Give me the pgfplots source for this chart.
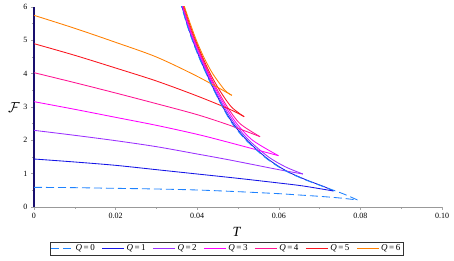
\documentclass[border=0pt]{standalone}
\usepackage{fontspec}
\setmainfont{Liberation Serif}
\usepackage{pgfplots}
\pgfplotsset{compat=1.18}
\definecolor{navyax}{RGB}{25,15,110}
\definecolor{cq0}{RGB}{30,130,255}
\definecolor{cq1}{RGB}{20,20,230}
\definecolor{cq2}{RGB}{155,48,255}
\definecolor{cq3}{RGB}{255,0,255}
\definecolor{cq4}{RGB}{255,20,147}
\definecolor{cq5}{RGB}{250,20,30}
\definecolor{cq6}{RGB}{255,127,0}
\begin{document}
\begin{tikzpicture}
\begin{axis}[
  at={(0,0)}, anchor=south west,
  scale only axis, width=408pt, height=200pt,
  xmin=0, xmax=0.1, ymin=0, ymax=6,
  axis x line*=bottom, axis y line*=left,
  x axis line style={-, draw=gray!80},
  y axis line style={-, draw=navyax, line width=1.3pt},
  xtick={0,0.02,0.04,0.06,0.08,0.1},
  xticklabels={0,0.02,0.04,0.06,0.08,0.10},
  ytick={0,1,2,3,4,5,6},
  minor x tick num=1, minor y tick num=1,
  tick align=outside,
  major tick length=3pt, minor tick length=2pt,
  tick style={gray!70, line width=0.4pt},
  tick label style={font=\fontsize{8}{9}\selectfont},
  /pgf/number format/assume math mode=true,
  xlabel={\textit{T}}, ylabel={$\mathcal{F}$},
  every axis x label/.style={at={(axis description cs:0.4975,-0.125)}, anchor=center, font=\fontsize{14}{14}\selectfont},
  every axis y label/.style={at={(axis description cs:-0.049,0.495)}, anchor=center, font=\fontsize{14}{14}\selectfont},
  legend columns=7,
  legend style={at={(axis description cs:0.472,-0.2075)}, anchor=center, draw=black!80, font=\fontsize{9}{10}\selectfont, inner sep=0.8pt, /tikz/every even column/.append style={column sep=5pt}},
  legend image code/.code={\draw[#1] (0pt,0pt) -- (22pt,0pt);},
  every axis plot/.append style={line width=0.85pt},
]
% Q = 0 (lower branch)
\addplot[cq0, dash pattern=on 8pt off 4pt, smooth] coordinates {(0,0.59) (0.01,0.58) (0.02,0.56) (0.03,0.54) (0.04,0.51) (0.05,0.46) (0.06,0.40) (0.065,0.36) (0.07,0.32) (0.075,0.27) (0.0793,0.21)};
\addlegendentry{\textit{Q}\,=\,0}
% Q = 1
\addplot[cq1, smooth] coordinates {(0,1.44) (0.01,1.35) (0.02,1.25) (0.03,1.12) (0.04,0.99) (0.05,0.86) (0.06,0.72) (0.066,0.63) (0.0734,0.48)};
\addlegendentry{\textit{Q}\,=\,1}
\addplot[cq1, smooth, forget plot] coordinates {(0.0734,0.48) (0.0713,0.6) (0.0670,0.8) (0.0632,1.0) (0.0602,1.2) (0.0567,1.5) (0.0522,2.0) (0.0488,2.5) (0.0463,3.0) (0.0442,3.5) (0.0423,4.0) (0.0405,4.5) (0.0389,5.0) (0.0375,5.5) (0.0363,6.0) (0.0356,6.3)};
% Q = 2
\addplot[cq2, smooth] coordinates {(0,2.30) (0.01,2.15) (0.02,1.99) (0.03,1.81) (0.04,1.59) (0.048,1.41) (0.06,1.12) (0.0659,0.99)};
\addlegendentry{\textit{Q}\,=\,2}
\addplot[cq2, smooth, forget plot] coordinates {(0.0659,0.99) (0.0617,1.2) (0.0575,1.5) (0.0527,2.0) (0.0492,2.5) (0.0466,3.0) (0.0444,3.5) (0.0425,4.0) (0.0407,4.5) (0.0390,5.0) (0.0376,5.5) (0.0364,6.0) (0.0357,6.3)};
% Q = 3
\addplot[cq3, smooth] coordinates {(0,3.16) (0.01,2.93) (0.02,2.69) (0.03,2.45) (0.04,2.18) (0.048,1.93) (0.0599,1.54)};
\addlegendentry{\textit{Q}\,=\,3}
\addplot[cq3, smooth, forget plot] coordinates {(0.0599,1.54) (0.0536,2.0) (0.0497,2.5) (0.0470,3.0) (0.0447,3.5) (0.0427,4.0) (0.0409,4.5) (0.0392,5.0) (0.0377,5.5) (0.0365,6.0) (0.0358,6.3)};
% Q = 4
\addplot[cq4, smooth] coordinates {(0,4.03) (0.01,3.73) (0.02,3.42) (0.03,3.10) (0.04,2.77) (0.048,2.45) (0.0554,2.11)};
\addlegendentry{\textit{Q}\,=\,4}
\addplot[cq4, smooth, forget plot] coordinates {(0.0554,2.11) (0.0505,2.5) (0.0474,3.0) (0.0450,3.5) (0.0429,4.0) (0.0411,4.5) (0.0394,5.0) (0.0379,5.5) (0.0366,6.0) (0.0359,6.3)};
% Q = 5
\addplot[cq5, smooth] coordinates {(0,4.90) (0.01,4.55) (0.02,4.17) (0.03,3.78) (0.04,3.33) (0.048,2.93) (0.0515,2.71)};
\addlegendentry{\textit{Q}\,=\,5}
\addplot[cq5, smooth, forget plot] coordinates {(0.0515,2.71) (0.0484,3.0) (0.0455,3.5) (0.0432,4.0) (0.0413,4.5) (0.0396,5.0) (0.0381,5.5) (0.0368,6.0) (0.0360,6.3)};
% Q = 6
\addplot[cq6, smooth] coordinates {(0,5.75) (0.01,5.36) (0.02,4.94) (0.03,4.50) (0.04,3.92) (0.0485,3.35)};
\addlegendentry{\textit{Q}\,=\,6}
\addplot[cq6, smooth, forget plot] coordinates {(0.0485,3.35) (0.0468,3.5) (0.0438,4.0) (0.0416,4.5) (0.0398,5.0) (0.0383,5.5) (0.0369,6.0) (0.0362,6.3)};
% Q = 0 (upper branch, drawn last)
\addplot[cq0, dash pattern=on 8pt off 4pt, smooth, forget plot] coordinates {(0.0793,0.21) (0.0757,0.4) (0.0712,0.6) (0.0668,0.8) (0.0630,1.0) (0.0600,1.2) (0.0565,1.5) (0.0520,2.0) (0.0486,2.5) (0.0462,3.0) (0.0441,3.5) (0.0422,4.0) (0.0404,4.5) (0.0388,5.0) (0.0374,5.5) (0.0362,6.0) (0.0355,6.3)};
\end{axis}
\pgfresetboundingbox
\path[use as bounding box] (-34pt,-54pt) rectangle (420pt,207pt);
\end{tikzpicture}
\end{document}
